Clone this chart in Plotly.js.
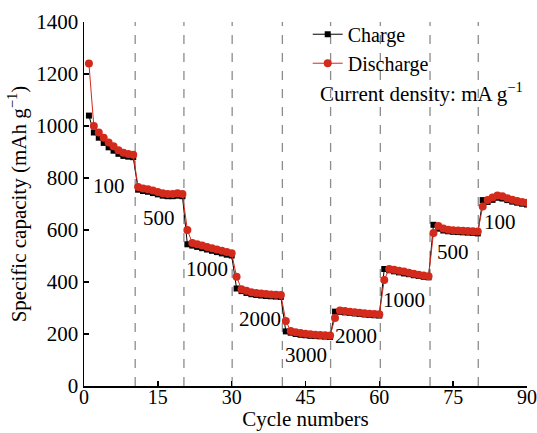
<!DOCTYPE html>
<html>
<head>
<meta charset="utf-8">
<script src="https://cdn.plot.ly/plotly-3.0.1.min.js"></script>
<style>html,body{margin:0;padding:0;background:#fff;}#chart{width:537px;height:433px;}</style>
</head>
<body>
<div id="chart"></div>
<script>
// cycle numbers 1..90
const cycles = [];
for (let i = 1; i <= 90; i++) cycles.push(i);

const chargeCapacity = [
  1040, 975, 955, 935, 918, 905, 893, 885, 882, 880,
  755, 750, 747, 742, 737, 732, 730, 730, 732, 730,
  545, 540, 535, 530, 525, 520, 515, 510, 505, 502,
  375, 365, 358, 353, 350, 348, 346, 345, 344, 343,
  210, 205, 200, 197, 195, 193, 192, 191, 190, 189,
  286, 285, 283, 281, 279, 277, 275, 273, 272, 271,
  450, 445, 441, 437, 433, 430, 426, 423, 420, 418,
  620, 605, 598, 595, 593, 592, 591, 590, 589, 587,
  715, 708, 716, 724, 721, 715, 709, 705, 701, 698
];
const dischargeCapacity = [
  1240, 1000, 975, 955, 937, 922, 907, 897, 892, 889,
  765, 760, 757, 752, 746, 741, 738, 738, 741, 738,
  600, 550, 545, 540, 535, 530, 525, 520, 515, 511,
  420, 372, 366, 361, 358, 356, 354, 352, 351, 350,
  250, 212, 207, 204, 201, 199, 197, 196, 195, 194,
  262, 290, 288, 286, 284, 282, 280, 278, 277, 276,
  408, 450, 447, 443, 440, 436, 432, 428, 425, 422,
  588, 615, 606, 601, 599, 598, 597, 596, 595, 594,
  690, 715, 725, 733, 730, 722, 716, 712, 708, 705
];

const rateLabels = ["100", "500", "1000", "2000", "3000", "2000", "1000", "500", "100"];
const rateLabelX = [5.0, 15.2, 24.9, 35.7, 45.1, 55.2, 65.0, 74.9, 84.5];
const rateLabelY = [771, 648, 451, 258, 119, 192, 331, 516, 632];
const boundaries = [10.4, 20.3, 30.1, 40.3, 50.1, 60.2, 70.3, 80.1];

const serif = "Liberation Serif, Times New Roman, serif";

const traces = [
  {
    x: cycles, y: chargeCapacity, name: "Charge", type: "scatter", mode: "lines+markers",
    line: {color: "#000000", width: 1},
    marker: {symbol: "square", size: 6, color: "#000000"}
  },
  {
    x: cycles, y: dischargeCapacity, name: "Discharge", type: "scatter", mode: "lines+markers",
    line: {color: "#d42a1c", width: 1},
    marker: {symbol: "circle", size: 8, color: "#d42a1c"}
  }
];

const shapes = boundaries.map(b => ({
  type: "line", xref: "x", yref: "y", x0: b, x1: b, y0: 0, y1: 1400,
  line: {color: "#8c8c8c", width: 1.3, dash: "dash"}, layer: "below"
}));

const annotations = rateLabels.map((t, i) => ({
  x: rateLabelX[i], y: rateLabelY[i], xref: "x", yref: "y", text: t, showarrow: false,
  font: {family: serif, size: 21, color: "#000"}
}));
annotations.push({
  x: 0.528, y: 0.805, xref: "paper", yref: "paper", xanchor: "left", yanchor: "middle",
  text: "Current density: mA g<sup>−1</sup>", showarrow: false,
  font: {family: serif, size: 21, color: "#000"}
});

const layout = {
  width: 537, height: 433,
  margin: {l: 84, r: 10, t: 22, b: 47},
  paper_bgcolor: "#fff", plot_bgcolor: "#fff",
  showlegend: true,
  legend: {
    x: 0.505, y: 1.02, xanchor: "left", yanchor: "top",
    bgcolor: "rgba(0,0,0,0)", itemwidth: 30, tracegroupgap: 0,
    font: {family: serif, size: 20, color: "#000"}
  },
  xaxis: {
    range: [0, 90], tickvals: [0, 15, 30, 45, 60, 75, 90],
    showgrid: false, zeroline: false, showline: true, linecolor: "#000", linewidth: 1.5,
    ticks: "inside", ticklen: 5, tickcolor: "#000", tickwidth: 1.5,
    ticklabeloverflow: "allow", ticklabelstandoff: -8,
    tickfont: {family: serif, size: 20, color: "#000"},
    title: {text: "Cycle numbers", font: {family: serif, size: 21, color: "#000"}, standoff: 3}
  },
  yaxis: {
    range: [0, 1400], tickvals: [0, 200, 400, 600, 800, 1000, 1200, 1400],
    showgrid: false, zeroline: false, showline: true, linecolor: "#000", linewidth: 1.5,
    ticks: "inside", ticklen: 5, tickcolor: "#000", tickwidth: 1.5,
    ticklabeloverflow: "allow",
    tickfont: {family: serif, size: 21, color: "#000"},
    title: {text: "Specific capacity (mAh g<sup>−1</sup>)", font: {family: serif, size: 21, color: "#000"}, standoff: 4}
  },
  shapes: shapes,
  annotations: annotations
};

Plotly.newPlot("chart", traces, layout, {displayModeBar: false, staticPlot: true});
</script>
</body>
</html>
